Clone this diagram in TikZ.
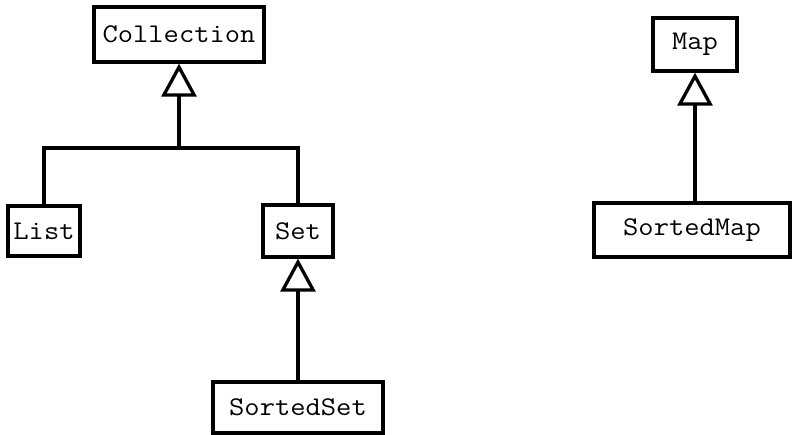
\documentclass[tikz,border=0pt]{standalone}
\usepackage{fontspec}
\newfontfamily\boxfont{Latin Modern Mono}[FakeStretch=1.1]
\usetikzlibrary{arrows.meta}
\tikzstyle{iface}=[draw,line width=3.3pt,inner sep=2pt,font=\boxfont\fontsize{27}{27}\selectfont]
\tikzstyle{inherit}=[line width=3.3pt,-{Triangle[open,length=33pt,width=35pt,line width=3.3pt]}]
\tikzstyle{link}=[line width=3.3pt]

\begin{document}
\begin{tikzpicture}[x=1pt,y=1pt]
		\useasboundingbox (0,0) rectangle (792,-435);

		% collection side
		\node[iface,minimum width=170pt,minimum height=55pt] (Collection) at (179,-34.5) {Collection};
		\node[iface,minimum width=72pt,minimum height=50pt] (List) at (44,-231) {List};
		\node[iface,minimum width=70pt,minimum height=52pt] (Set) at (298,-231) {Set};
		\node[iface,minimum width=170pt,minimum height=51pt] (SortedSet) at (298,-407.5) {SortedSet};

		\coordinate (bar) at (179,-148);
		\draw[link] (List.north) |- (bar) -| (Set.north);
		\draw[inherit] (bar) -- (Collection.south);
		\draw[inherit] (SortedSet.north) -- (Set.south);

		% map side
		\node[iface,minimum width=84pt,minimum height=53pt] (Map) at (695,-44.5) {Map};
		\node[iface,minimum width=196pt,minimum height=54pt] (SortedMap) at (692,-230) {SortedMap};

		\draw[inherit] (SortedMap.north -| Map.south) -- (Map.south);
	\end{tikzpicture}
\end{document}
